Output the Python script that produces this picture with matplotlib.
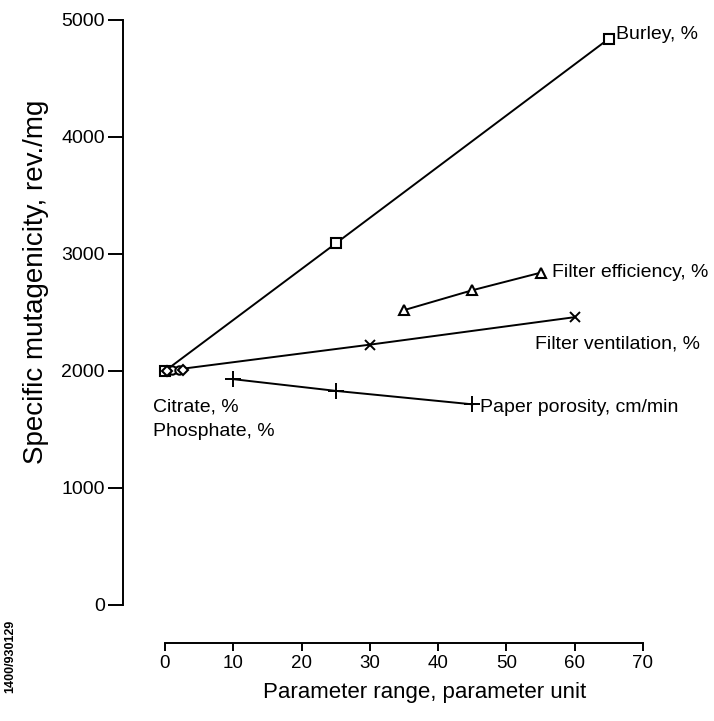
import matplotlib
matplotlib.use("Agg")
import matplotlib.pyplot as plt

plt.rcParams["font.family"] = ["Liberation Sans", "DejaVu Sans"]

# data
burley_x = [0, 25, 65]
burley_y = [2000, 3090, 4840]

citrate_x = [1, 2]
citrate_y = [2005, 2005]

phosphate_x = [0.3, 2.7]
phosphate_y = [2000, 2005]

efficiency_x = [35, 45, 55]
efficiency_y = [2520, 2690, 2840]

ventilation_x = [0, 30, 60]
ventilation_y = [2000, 2225, 2460]

porosity_x = [10, 25, 45]
porosity_y = [1930, 1830, 1715]

x_ticks = [0, 10, 20, 30, 40, 50, 60, 70]
y_ticks = [0, 1000, 2000, 3000, 4000, 5000]

fig = plt.figure(figsize=(7.14, 7.21), dpi=100)
ax = fig.add_axes([0.2024, 0.1447, 0.7651, 0.8438])
ax.set_xlim(-3, 77)
ax.set_ylim(-100, 5100)

line_kw = dict(color="black", lw=1.4, mfc="white", mec="black", clip_on=False)

ax.plot(ventilation_x, ventilation_y, marker="x", ms=7, mew=1.4, **line_kw)
ax.plot(porosity_x, porosity_y, marker="+", ms=11, mew=1.4, **line_kw)
ax.plot(efficiency_x, efficiency_y, marker="^", ms=7, mew=1.5, **line_kw)
ax.plot(burley_x, burley_y, marker="s", ms=6.5, mew=1.5, **line_kw)
ax.plot(citrate_x, citrate_y, ls="none", marker="o", ms=6, mew=1.5,
        mfc="white", mec="black", clip_on=False)
ax.plot(phosphate_x, phosphate_y, ls="none", marker="D", ms=5.5, mew=1.5,
        mfc="white", mec="black", clip_on=False)

# curve labels
txt_kw = dict(fontsize=14, ha="left", va="center")
ax.text(66, 4880, "Burley, %", **txt_kw)
ax.text(56.7, 2846, "Filter efficiency, %", **txt_kw)
ax.text(54.2, 2231, "Filter ventilation, %", **txt_kw)
ax.text(46.1, 1690, "Paper porosity, cm/min", **txt_kw)
ax.text(-1.8, 1690, "Citrate, %", **txt_kw)
ax.text(-1.8, 1480, "Phosphate, %", **txt_kw)

# detached axes
for s in ["top", "right"]:
    ax.spines[s].set_visible(False)
ax.spines["left"].set_position(("data", -6.15))
ax.spines["left"].set_bounds(0, 5000)
ax.spines["bottom"].set_position(("data", -325))
ax.spines["bottom"].set_bounds(0, 70)
ax.spines["left"].set_linewidth(1.4)
ax.spines["bottom"].set_linewidth(1.4)

ax.set_xticks(x_ticks)
ax.set_yticks(y_ticks)
ax.tick_params(axis="y", direction="out", length=11, width=1.4, pad=2, labelsize=14)
ax.tick_params(axis="x", direction="out", length=6, width=1.4, pad=3, labelsize=13.5)

ax.set_xlabel("Parameter range, parameter unit", fontsize=16)
ax.set_ylabel("Specific mutagenicity, rev./mg", fontsize=20)
ax.xaxis.set_label_coords(0.5135, -0.125)
ax.xaxis.label.set_va("center")
ax.yaxis.set_label_coords(-0.198, 0.55)
ax.yaxis.label.set_va("center")

fig.text(0.015, 0.09, "1400/930129", rotation=90, fontsize=9,
         fontweight="bold", ha="center", va="center")

fig.savefig("out.png", dpi=100)
